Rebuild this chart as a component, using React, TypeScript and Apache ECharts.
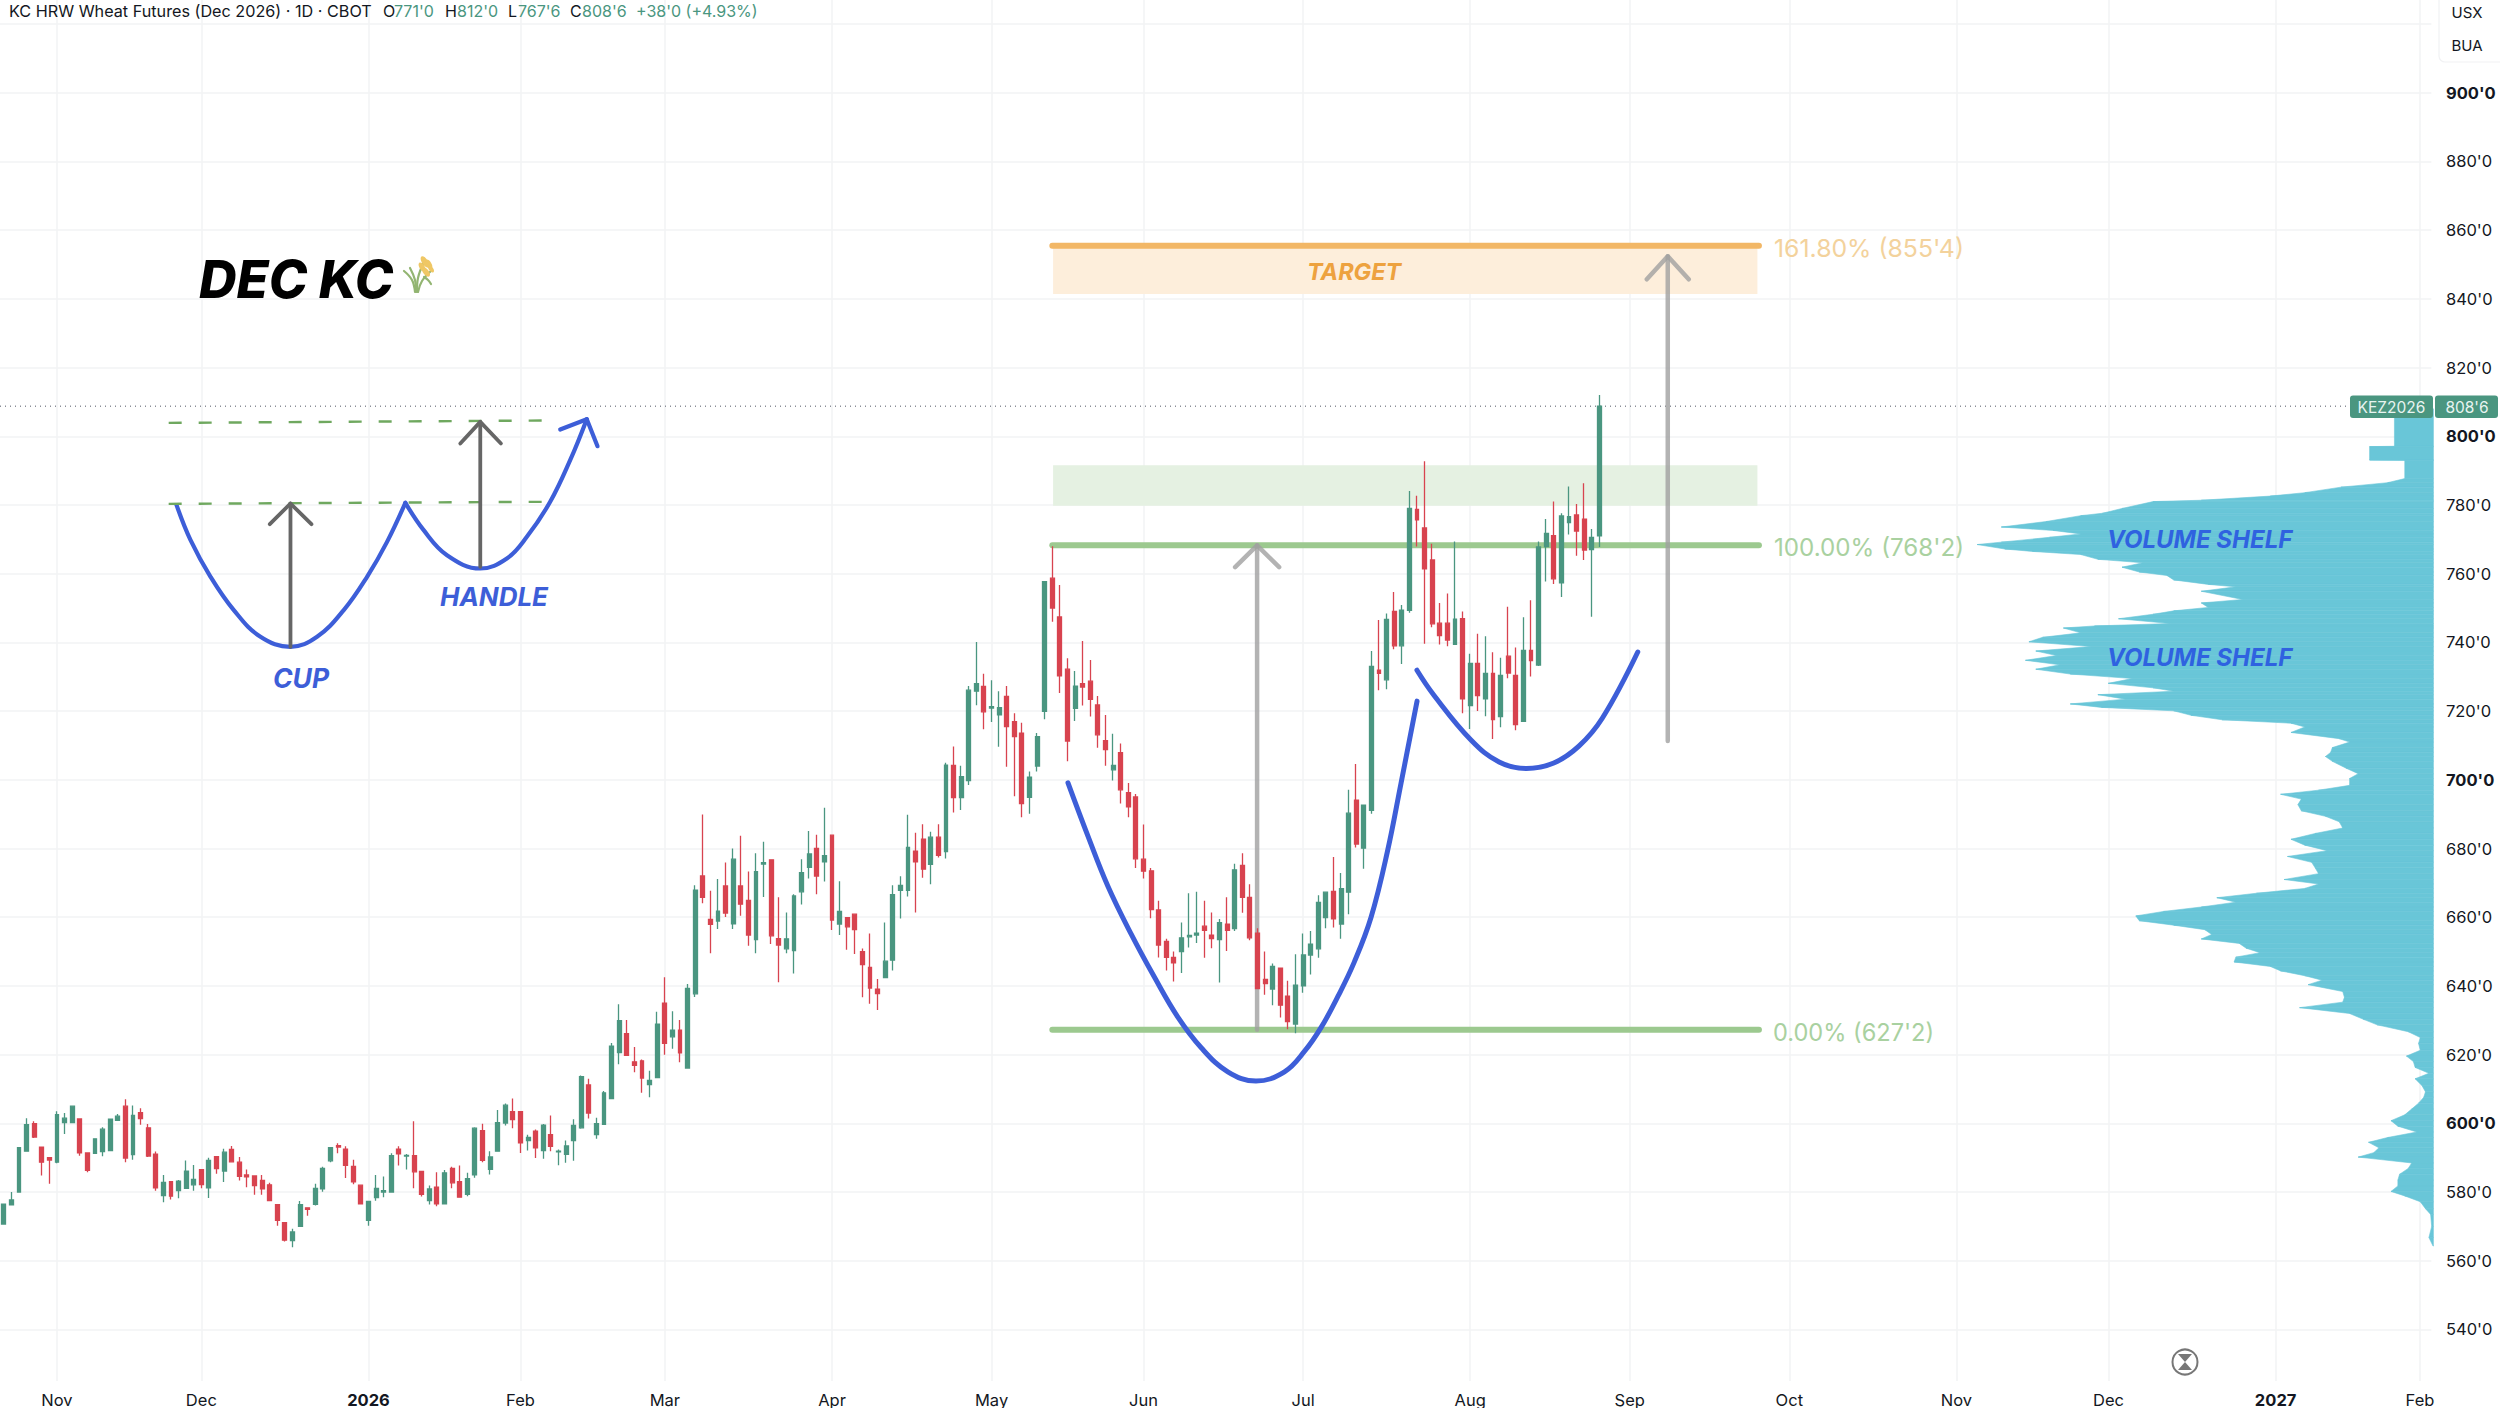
import React, { useEffect, useRef } from "react";
import * as echarts from "echarts";

// [open, close, low, high]
const candles: number[][] = [
[570.7,576.5,570.7,576.5],[576.3,577.7,576.3,580],[580,592.9,580,592.9],[591.9,599.6,591.9,601.5],[599.9,596,595.7,600.6],[593.1,588.7,584.8,593.1],[590,589.3,582.4,590.2],[588.7,602.5,588.4,603.5],[600.2,601.5,596.9,603],[600.2,605,600.2,605],
[601.3,591.4,590.6,601.3],[591.4,586.3,585.8,591.4],[591.3,595.5,591.1,595.5],[591.8,598.3,590.4,598.9],[592.1,601.2,592.1,601.2],[600.9,602.1,600.9,602.7],[605,589.9,588.7,607],[590.9,602.3,589.4,605.2],[603.1,601.4,599.6,604.4],[598.7,590.5,590.2,599.8],
[591,581.2,580.4,591.8],[579,582.8,577,585],[583,578.8,577.8,583],[580.4,583.2,578.2,583.5],[581.1,586.1,581.1,589.2],[582.1,583.7,580.4,587.9],[586.5,582.2,581.1,586.5],[581.2,589.2,578.3,590],[590.3,586.8,585.3,590.3],[586.1,591.6,582.9,592.6],
[592.4,588.8,588.7,593.4],[588.7,584.6,583.4,590.2],[585,584.4,581.4,586.6],[584.7,581.9,579.2,584.7],[583.4,580.9,579.2,585],[582.1,577.5,577.5,582.7],[576.3,571.8,570.2,576.3],[571.1,566,565.6,571.1],[565.9,568.4,563.9,569.3],[570,576.3,570,577.4],
[575.4,575,573.1,575.6],[576.4,581.1,576.1,582.4],[580.9,586.9,580.1,587.4],[589.1,592.9,588.7,592.9],[593.5,593.1,591.3,594.2],[592.5,587.8,584.1,593.3],[587.5,583,582.3,589.4],[582,576.6,576.4,582],[571.8,577.3,570.2,577.4],[578.4,581.1,577.5,585],
[580,580.4,578.5,584.5],[580,590.6,580,591.3],[592.5,591.1,587.7,593.3],[590.5,590.7,586.6,591.1],[590.6,585.9,581.1,600.6],[586,579.3,578.7,586],[577.5,580.9,576.4,581.9],[581.4,576.6,575.9,585.8],[576.6,585.6,576.6,586.4],[586.9,582.7,581.1,587.4],
[583,578.5,578.5,587.7],[579.3,583.9,578.8,585.6],[585,598.6,584.2,598.9],[597.9,589.2,588.7,599.9],[586.6,590.2,585.1,591.9],[591.9,600.2,591.9,603.9],[600.1,605.3,599.4,605.8],[603.4,601.1,598.6,607.2],[603.4,594.3,591.4,603.4],[595,595.9,592.1,596.7],
[597.7,592.9,589.9,598.2],[592.1,599.5,589.7,599.8],[596.7,593.3,591.9,602.3],[591.7,591.9,587.8,592.4],[591,593.4,588.5,595],[595,599.4,589.1,601.2],[598.7,613.6,598.4,613.9],[611.2,603,601.4,613],[596.7,599.9,595.5,601.6],[599.7,608.9,599.7,609.4],
[607.2,622.5,607.2,623.4],[620.6,629.9,617.2,634.7],[626.1,619.8,619.8,630.1],[617.9,616.9,614.9,622.2],[618.2,613.2,608.9,618.6],[611.3,612.5,607.6,615.3],[613.3,628.9,613.3,632.5],[635,623.3,620,642.5],[625.2,627.1,621.7,632.6],[627.1,620.5,617.8,630.1],
[616.1,639.3,616.1,640.6],[637.7,667.9,636.8,669.3],[672,665.8,664.1,689.9],[659.4,657.9,649.5,667.7],[658.9,661.8,656.6,671.1],[669.1,661.2,660.1,675.9],[658.1,676.9,656.6,680],[669.1,663.8,660.4,683.7],[664.9,654.8,651.7,673.3],[653.5,673.3,649.5,678.6],
[675.5,675.9,665.9,682],[676.7,654.6,652.2,676.7],[653.8,651.9,641.1,665.8],[650.8,653.7,649.5,661.4],[650.3,666.2,643.6,666.7],[667.4,673,663.7,676.9],[674.5,678.4,671.3,685.1],[680,672,666.7,684],[676.1,677.9,670.4,691.9],[683.9,659.2,656.3,683.9],
[658,661.7,654.8,670.5],[659.9,657.2,650.5,659.9],[660.9,656.4,649.3,661.1],[650,646.2,636.7,650.9],[645.4,639.4,634.8,655.3],[639.1,637.8,633,642],[642.4,647.2,642.4,658.5],[647.5,666.6,644.5,669.3],[667.8,669.3,659.6,671.9],[667.8,680.3,666,689.8],
[679.2,676.1,661.4,684.6],[682.7,674,671.5,687.1],[675.4,683.3,669.6,684.9],[683.3,678,677.4,687.1],[679.1,704.3,677.1,705],[704.2,694.8,690.5,709.7],[694.8,700.9,691.2,704.1],[699.8,726.1,698.5,727.3],[725.8,728,721.7,740.1],[727.2,719.8,714.7,730.9],
[720.9,721.3,716.8,729],[718.9,721,709.6,725.8],[724.3,715.5,703.8,727.3],[716.9,712.6,695.2,719.4],[713.6,693.1,689.1,716.6],[694.9,700.8,690.1,702.4],[704,712.6,702.4,713.6],[719.9,757.7,717.6,757.7],[758.7,750,746,768],[747.4,730.3,725.3,756.7],
[732.2,711.3,705.4,735.4],[720.8,727.3,717.1,731.7],[728,727,721.6,740.4],[728.7,723.4,718.4,734.9],[721.8,713.1,709.3,724.4],[711.4,708.8,704.1,718.9],[702.9,704.2,699.8,713.4],[707.9,697.1,693.1,710.6],[696.3,692.1,689.1,699.1],[695,677,674.3,695.9],
[676.9,673.4,671.3,687],[673.5,662.2,659.7,674.3],[662.1,651.9,648.3,664.8],[653,648.3,644.5,653.7],[648.3,646.7,641.3,650],[650,654,643.8,658.5],[654.3,654.7,651.2,667],[654.8,655.4,652.5,667.4],[657.4,656.2,648.2,664.8],[654.8,653.8,651,661.4],
[653.5,658.4,641,659.5],[658,656.2,650.2,665.8],[656.7,673.8,656,675.6],[675.1,665.8,661.3,678.6],[665.8,654,653.3,669.6],[655.4,639.2,639.2,656.8],[641.9,640.7,637.4,650],[639.1,645.7,634.4,646.5],[645.2,634.4,630.8,645.2],[637,629.6,627.4,641.5],
[628.9,640.2,626.2,649.2],[640,649,638,655.3],[649,652.2,643.3,656],[650.8,664.3,648.2,666.4],[659.9,667.3,656.8,667.3],[667.5,659.5,657,677.5],[658,668.3,653.7,672.9],[667.3,690.3,660.9,697.1],[694.1,681.3,680.3,704.6],[680.1,692.6,674.1,692.6],
[691.1,733,690.1,737.5],[731.9,731,726.1,746.5],[729.1,746.7,726.4,748.4],[749,739,738,754.7],[739,749.4,733.7,750.9],[749.3,779,748.6,784.1],[778.7,775.7,767.9,782.7],[773.3,761.4,739.6,792.7],[764,745.4,744.4,768.7],[745.6,742,739.4,751.5],
[745.6,740.7,738.9,754.2],[739.4,746.8,739.4,769.4],[746.9,723.6,719.4,749],[721.6,733.9,714.8,736.7],[733.9,724.5,720,742.5],[723.6,731,718.5,741.8],[731,717.5,711.9,737.1],[718.4,730.4,715.3,735.5],[736,731.1,729.6,750.4],[730.4,716.1,714.4,738.5],
[717,737.7,717,747.3],[737.7,734.7,730.1,752.3],[733.4,767.8,733.1,769.4],[767.9,771.7,757.7,775.9],[771.1,758.5,757,781],[757.3,776.8,753.2,777.6],[774.9,776.6,771.4,785.4],[777.1,772.4,765.2,780.3],[775.9,766.9,764,786.3],[767,770.6,747.5,773],
[771,808.75,767.75,812],
];

const barSlots = 320;
const monthBars = [7, 26, 48, 68, 87, 109, 130, 150, 171, 193, 214, 235, 257, 277, 299, 318];
const monthLabels = ["Nov", "Dec", "2026", "Feb", "Mar", "Apr", "May", "Jun", "Jul", "Aug", "Sep", "Oct", "Nov", "Dec", "2027", "Feb"];
const priceGridLines = [540, 560, 580, 600, 620, 640, 660, 680, 700, 720, 740, 760, 780, 800, 820, 840, 860, 880, 900, 920];
const priceLabels = [540, 560, 580, 600, 620, 640, 660, 680, 700, 720, 740, 760, 780, 800, 820, 840, 860, 880, 900];
const boldPrices = [600, 700, 800, 900];

const profilePrices = [808,797.1,797,793.1,793,787.7,786.5,785.2,783.6,782.6,781.4,781,779,777.6,776.9,775.2,773.6,772.6,771.6,770.6,769.2,768.5,767.2,766.5,765.6,764.2,763.2,761.9,760.5,759.5,758.2,756.9,756.2,754.9,752.5,751.5,750.2,749.2,748.2,746.9,745.5,744.8,744.2,742.8,741.5,740.2,738.8,737.5,736.2,734.8,733.5,732.2,730.8,729.5,728.1,726.8,725.8,724.8,723.5,722.1,721.1,720.1,718.8,717.5,716.5,715.4,713.8,712,711,709.4,708,706.8,705.4,703.4,701.8,700.4,698.4,697,695.8,694.4,692.8,691,689.4,687.8,686,684.4,682.7,681,679.4,677.7,676,674.4,672.7,671,669.7,668.4,667,665.7,664.4,663,661.7,660.4,659,657.7,656.4,655,653.7,652.4,651,649.7,648.4,647,645.7,644.4,643,641.7,640.4,638.4,636.7,635.3,633.7,632,630.3,628.7,626.7,625,623.3,621.3,619.6,618,616.3,614.6,613,611,609.2,607.6,605.9,604.2,602.5,600.8,599.2,597.5,595.9,594.5,592.9,591.5,590.2,588.5,586.9,585.2,583.5,581.8,580.2,578.9,577.2,575.2,573.5,570,566.8,564.3];
const profileVolumes = [113,113,185,185,83,83,133,268,373,473,673,813,903,960,1023,1123,1253,1103,1023,1113,1253,1323,1243,1163,1023,973,843,903,853,773,753,653,573,673,553,673,653,753,813,913,763,983,1073,1023,1133,1173,993,1153,1093,1183,1083,1153,1053,873,943,813,753,973,893,1053,963,753,703,613,413,373,413,273,243,293,298,313,293,253,218,243,243,333,443,383,393,383,313,273,263,343,413,373,308,423,353,343,333,433,333,373,513,628,573,673,783,863,853,753,663,643,673,563,543,503,573,578,473,443,373,323,363,263,258,263,388,243,203,163,73,38,43,38,78,58,53,13,53,33,23,28,43,63,83,123,103,48,133,188,158,173,218,63,73,98,103,103,123,83,38,23,8,5,13,1];

// Drawings, as [bar number, price]
const bigCup = [[140.06,699.1],[142.69,683.6],[145.3,669.1],[148.4,655],[151.45,642.5],[154.5,631],[157.6,622],[161.1,615],[164.8,612.3],[168.55,615],[171.2,621],[173.4,628],[175.6,637],[177.75,647],[179.95,660],[182.1,679.1],[183.9,699.1],[186,722.9]];
const bigHandle = [[185.99,731.9],[188.2,724.7],[193.1,711.6],[196.8,705.2],[200.4,703.3],[204,704.9],[207.3,709.8],[210.4,718],[215.05,737.2]];
const sketchCup = [[22.74,779.95],[24.58,769.76],[27.21,759.09],[30.27,749.39],[33.78,741.63],[37.73,738.72],[41.23,741.63],[44.74,749.39],[47.81,759.09],[50.44,769.27],[52.85,780.63]];
const sketchHandle = [[52.85,780.63],[55.26,772.67],[58.33,765.39],[62.71,761.51],[66.21,764.42],[68.84,770.73],[71.91,780.92],[74.54,793.04],[76.73,804.98]];
const sketchHead = [[73.23,801.97],[76.73,804.98],[78.14,797.12]];
const sketchDashTop = [[21.7,803.9],[70.9,804.59]];
const sketchDashBottom = [[21.7,780.33],[70.9,780.92]];
const sketchArrowCup = [[37.73,738.72],[37.73,780.43]];
const sketchArrowCupHead = [[35.01,774.42],[37.73,780.43],[40.49,774.42]];
const sketchArrowHandle = [[62.71,762],[62.71,804.2]];
const sketchArrowHandleHead = [[60.08,797.9],[62.71,804.2],[65.43,797.9]];
const moveArrow = [[164.95,627.25],[164.95,768.25]];
const moveArrowHead = [[162.06,761.9],[164.95,768.25],[167.85,761.9]];
const targetArrow = [[219,711.3],[219,852.4]];
const targetArrowHead = [[216.24,845.7],[219,852.4],[221.76,845.7]];
const fibBars = [138.0, 231.0];
const fibTarget = 855.5;
const fibFull = 768.25;
const fibZero = 627.25;
const bandBars = [138.1, 230.8];
const targetBand = [855.5, 841.4];
const resistanceBand = [791.6, 779.8];
const lastPrice = 808.75;
const lastPriceEndBar = 309;

const FONT = "Inter, 'Noto Sans', sans-serif";
const UP = "#4a9680";
const DOWN = "#d8434f";
const BLUE = "#3d5ed8";
const GREY_ARROW = "rgba(160,160,160,0.8)";
const DARK_ARROW = "#666666";
const TEXT = "#131722";

const line = (data: number[][], color: string, width: number, extra: any = {}) => ({
  type: "line",
  xAxisIndex: 1,
  yAxisIndex: 0,
  data,
  symbol: "none",
  silent: true,
  z: 2,
  lineStyle: { color, width, cap: "round", join: "round", ...(extra.lineStyle || {}) },
  smooth: extra.smooth ?? false,
});

const t = (text: string, x: number, y: number, fontSize: number, fill: string, extra: any = {}) => ({
  type: "text",
  z: 50,
  style: {
    text,
    x,
    y,
    fontSize,
    fill,
    fontFamily: FONT,
    verticalAlign: "middle",
    align: "left",
    ...extra,
  },
});

export default function App() {
  const ref = useRef<HTMLDivElement>(null);
  useEffect(() => {
    document.body.style.margin = "0";
    const chart = echarts.init(ref.current!, undefined, { renderer: "svg" });
    const barCats = Array.from({ length: barSlots }, (_, i) => String(i));
    const gridTop = 0;
    const gridH = 1381.1;
    const priceMin = 525;
    const priceMax = 927;
    const profileItems = profilePrices.map((p, i) => [profileVolumes[i], p]);

    const stalk = (points: number[][]) => ({
      type: "polyline",
      z: 50,
      shape: { points, smooth: 0.4 },
      style: { stroke: "#93b572", fill: "none", lineWidth: 2.2, lineCap: "round" },
    });
    const grain = (x: number, y: number, rx: number, ry: number, rot: number) => ({
      type: "ellipse",
      z: 51,
      x,
      y,
      rotation: rot,
      shape: { cx: 0, cy: 0, rx, ry },
      style: { fill: "#efc765" },
    });
    const wheat = [
      stalk([[415, 292], [412, 280], [404, 271]]),
      stalk([[416, 292], [415, 280], [410, 268]]),
      stalk([[417, 292], [418, 278], [423, 264]]),
      stalk([[418, 292], [422, 281], [431, 271]]),
      stalk([[424, 277], [428, 280], [431, 284]]),
      grain(425, 262, 6.5, 3, -1.0),
      grain(422, 267, 5, 2.6, -1.0),
      grain(429, 264, 5, 2.4, -1.0),
      grain(426, 272, 5.5, 2.8, -0.9),
      grain(431, 269, 4, 2.2, -0.9),
    ];

    const option: any = {
      animation: false,
      backgroundColor: "#ffffff",
      grid: [
        { left: -2.23, top: gridTop, width: 2433.6, height: gridH, containLabel: false },
        { left: 1500, top: gridTop, width: 933.4, height: gridH, containLabel: false },
      ],
      xAxis: [
        {
          type: "category",
          gridIndex: 0,
          data: barCats,
          boundaryGap: true,
          axisLine: { show: false },
          axisTick: { show: false },
          axisLabel: { show: false },
          splitLine: { show: false },
        },
        {
          type: "value",
          gridIndex: 0,
          position: "bottom",
          min: -0.5,
          max: barSlots - 0.5,
          axisLine: { show: false },
          axisTick: { show: false, customValues: monthBars },
          axisLabel: {
            show: true,
            customValues: monthBars,
            margin: 10,
            hideOverlap: false,
            showMinLabel: true,
            showMaxLabel: true,
            fontFamily: FONT,
            fontSize: 16.5,
            color: TEXT,
            formatter: (v: number) => {
              const s = monthLabels[monthBars.indexOf(v)] ?? "";
              return /^\d/.test(s) ? `{b|${s}}` : s;
            },
            rich: { b: { fontFamily: FONT, fontSize: 16.5, fontWeight: 700, color: TEXT } },
          },
          splitLine: { show: true, lineStyle: { color: "#f2f3f5", width: 1.5 } },
        },
        {
          type: "value",
          gridIndex: 1,
          inverse: true,
          min: 0,
          max: 2707,
          show: false,
        },
      ],
      yAxis: [
        {
          type: "value",
          gridIndex: 0,
          position: "right",
          min: priceMin,
          max: priceMax,
          axisLine: { show: false },
          axisTick: { show: false, customValues: priceGridLines },
          axisLabel: {
            show: true,
            customValues: priceLabels,
            margin: 14.6,
            fontFamily: FONT,
            fontSize: 16.5,
            color: TEXT,
            align: "left",
            formatter: (v: number) => (boldPrices.includes(v) ? `{b|${v}'0}` : `${v}'0`),
            rich: { b: { fontFamily: FONT, fontSize: 16.5, fontWeight: 700, color: TEXT } },
          },
          splitLine: { show: true, lineStyle: { color: "#f2f3f5", width: 1.5 } },
        },
        { type: "value", gridIndex: 1, min: priceMin, max: priceMax, show: false },
      ],
      series: [
        {
          type: "custom",
          xAxisIndex: 2,
          yAxisIndex: 1,
          silent: true,
          z: 1,
          clip: false,
          encode: { x: 0, y: 1 },
          data: profileItems,
          renderItem: (params: any, api: any) => {
            const i = params.dataIndex;
            if (i >= profilePrices.length - 1) return null;
            const a = api.coord([profileVolumes[i], profilePrices[i]]);
            const b = api.coord([profileVolumes[i + 1], profilePrices[i + 1]]);
            const base = api.coord([0, profilePrices[i]]);
            const baseB = api.coord([0, profilePrices[i + 1]]);
            return {
              type: "polygon",
              shape: { points: [a, b, baseB, base] },
              style: { fill: "#69c6d8", stroke: "#69c6d8", lineWidth: 0.6 },
            };
          },
        },
        {
          type: "line",
          xAxisIndex: 1,
          yAxisIndex: 0,
          data: [],
          silent: true,
          z: 1,
          markArea: {
            silent: true,
            data: [
              [
                { xAxis: bandBars[0], yAxis: targetBand[0], itemStyle: { color: "#fdeedb" } },
                { xAxis: bandBars[1], yAxis: targetBand[1] },
              ],
              [
                { xAxis: bandBars[0], yAxis: resistanceBand[0], itemStyle: { color: "#e5f1e2" } },
                { xAxis: bandBars[1], yAxis: resistanceBand[1] },
              ],
            ],
          },
        },
        line(fibBars.map((b) => [b, fibTarget]), "#f2b766", 6),
        line(fibBars.map((b) => [b, fibFull]), "#9cc98f", 6),
        line(fibBars.map((b) => [b, fibZero]), "#9cc98f", 6),
        line([[-0.5, lastPrice], [lastPriceEndBar, lastPrice]], "#8a8e97", 1.5, { lineStyle: { type: [1, 4], cap: "butt" } }),
        line(moveArrow, GREY_ARROW, 4.5),
        line(moveArrowHead, GREY_ARROW, 4.5),
        line(targetArrow, GREY_ARROW, 4.5),
        line(targetArrowHead, GREY_ARROW, 4.5),
        line(bigCup, BLUE, 5, { smooth: 0.4 }),
        line(bigHandle, BLUE, 5, { smooth: 0.4 }),
        line(sketchCup, BLUE, 4.2, { smooth: 0.4 }),
        line(sketchHandle, BLUE, 4.2, { smooth: 0.4 }),
        line(sketchHead, BLUE, 4.2),
        line(sketchDashTop, "#6fa85f", 2.4, { lineStyle: { type: [13, 17], cap: "butt" } }),
        line(sketchDashBottom, "#6fa85f", 2.4, { lineStyle: { type: [13, 17], cap: "butt" } }),
        line(sketchArrowCup, DARK_ARROW, 3.8),
        line(sketchArrowCupHead, DARK_ARROW, 3.8),
        line(sketchArrowHandle, DARK_ARROW, 3.8),
        line(sketchArrowHandleHead, DARK_ARROW, 3.8),
        {
          type: "candlestick",
          xAxisIndex: 0,
          yAxisIndex: 0,
          data: candles,
          barWidth: 4.4,
          silent: true,
          z: 5,
          itemStyle: {
            color: UP,
            color0: DOWN,
            borderColor: UP,
            borderColor0: DOWN,
            borderColorDoji: UP,
            borderWidth: 1.3,
          },
        },
      ],
      graphic: [
        t("KC HRW Wheat Futures (Dec 2026) · 1D · CBOT", 9, 11, 16.2, TEXT),
        t("O", 383, 11, 16, TEXT),
        t("771'0", 394, 11, 16, UP),
        t("H", 445, 11, 16, TEXT),
        t("812'0", 457, 11, 16, UP),
        t("L", 508, 11, 16, TEXT),
        t("767'6", 518, 11, 16, UP),
        t("C", 570, 11, 16, TEXT),
        t("808'6", 582, 11, 16, UP),
        t("+38'0 (+4.93%)", 636, 11, 16, UP),
        { type: "rect", z: 40, shape: { x: 2439, y: -8, width: 70, height: 70, r: 6 }, style: { fill: "#ffffff", stroke: "#f1f2f4", lineWidth: 1.2 } },
        t("USX", 2467, 12, 15, TEXT, { align: "center" }),
        t("BUA", 2467, 45, 15, TEXT, { align: "center" }),
        t("DEC KC", 199, 279, 52, "#000000", { fontWeight: 800, fontStyle: "italic" }),
        ...wheat,
        t("CUP", 273, 678, 26.5, BLUE, { fontWeight: 700, fontStyle: "italic" }),
        t("HANDLE", 440, 596, 26, BLUE, { fontWeight: 700, fontStyle: "italic" }),
        t("TARGET", 1307, 271, 23.5, "#eda23f", { fontWeight: 700, fontStyle: "italic" }),
        t("161.80% (855'4)", 1774, 248, 24.8, "#f3d29c"),
        t("100.00% (768'2)", 1774, 547, 24.2, "#a9d1a0"),
        t("0.00% (627'2)", 1773, 1032, 23.6, "#a9d1a0"),
        t("VOLUME SHELF", 2107, 539, 24, "#2f62e0", { fontWeight: 700, fontStyle: "italic" }),
        t("VOLUME SHELF", 2107, 657, 24, "#2f62e0", { fontWeight: 700, fontStyle: "italic" }),
        { type: "rect", z: 45, shape: { x: 2350, y: 395.5, width: 83, height: 22.5, r: 3 }, style: { fill: UP } },
        { type: "rect", z: 45, shape: { x: 2435, y: 395.5, width: 63, height: 22.5, r: 3 }, style: { fill: UP } },
        t("KEZ2026", 2391.5, 407, 15.5, "#e8f4f0", { align: "center" }),
        t("808'6", 2467, 407, 15.5, "#e8f4f0", { align: "center" }),
        { type: "circle", z: 45, shape: { cx: 2185, cy: 1362, r: 12.5 }, style: { fill: "#ffffff", stroke: "#777777", lineWidth: 2 } },
        { type: "polygon", z: 46, shape: { points: [[2178, 1354], [2192, 1354], [2185, 1362]] }, style: { fill: "#777777" } },
        { type: "polygon", z: 46, shape: { points: [[2185, 1362], [2178, 1370], [2192, 1370]] }, style: { fill: "#777777" } },
      ],
    };
    chart.setOption(option);
    return () => chart.dispose();
  }, []);
  return <div ref={ref} style={{ width: 2500, height: 1408 }} />;
}
